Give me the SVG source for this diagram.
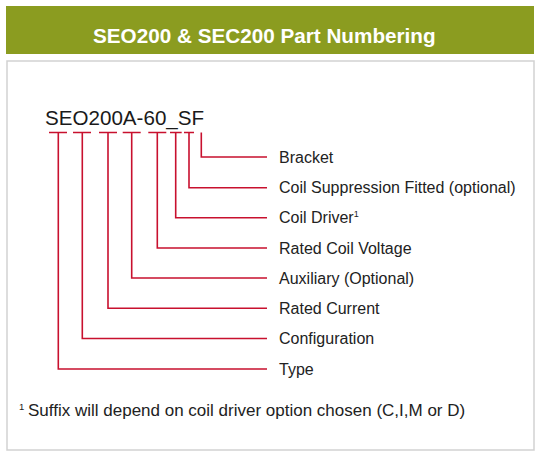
<svg xmlns="http://www.w3.org/2000/svg" width="535" height="451" viewBox="0 0 535 451">
<style>
.lbl{font-family:"Liberation Sans",Arial,sans-serif;font-size:16px;fill:#222}
.ln{fill:none;stroke:#c8102e;stroke-width:1.6}
</style>
<rect width="535" height="451" fill="#ffffff"/>
<g id="frame">
<rect x="7" y="61" width="527" height="389" fill="#ffffff" stroke="#d2d2d2" stroke-width="1.5"/>
</g>
<g id="header">
<rect x="6" y="6" width="528" height="48" fill="#8b9c20"/>
<text x="93" y="43" font-family="'Liberation Sans',Arial,sans-serif" font-size="20.7" font-weight="bold" fill="#ffffff">SEO200 &amp; SEC200 Part Numbering</text>
</g>
<g id="part-number">
<text x="45" y="125" font-family="'Liberation Sans',Arial,sans-serif" font-size="20.6" fill="#1a1a1a">SEO200A-60_SF</text>
</g>
<g id="connectors">
<path class="ln" d="M49 132.5H67M58.3 132.5V369H267"/>
<path class="ln" d="M73 132.5H91M82.3 132.5V338.5H267"/>
<path class="ln" d="M99 132.5H117M108 132.5V308.3H267"/>
<path class="ln" d="M122.7 132.5H140.7M131.7 132.5V278H267"/>
<path class="ln" d="M148.3 132.5H166.3M157.3 132.5V248H267"/>
<path class="ln" d="M170 132.5H181.7M175.7 132.5V217.7H267"/>
<path class="ln" d="M184 132.5H194M189 132.5V187.7H267"/>
<path class="ln" d="M201.3 132.5V157H267"/>
</g>
<g id="label-bracket"><text class="lbl" x="279" y="162.7">Bracket</text></g>
<g id="label-suppression"><text class="lbl" x="279" y="193.3">Coil Suppression Fitted (optional)</text></g>
<g id="label-driver"><text class="lbl" x="279" y="223.3">Coil Driver<tspan font-size="9" dy="-6">1</tspan></text></g>
<g id="label-voltage"><text class="lbl" x="279" y="253.7">Rated Coil Voltage</text></g>
<g id="label-auxiliary"><text class="lbl" x="279" y="283.7">Auxiliary (Optional)</text></g>
<g id="label-current"><text class="lbl" x="279" y="314">Rated Current</text></g>
<g id="label-configuration"><text class="lbl" x="279" y="344.2">Configuration</text></g>
<g id="label-type"><text class="lbl" x="279" y="374.7">Type</text></g>
<g id="footnote">
<text x="19" y="415.5" font-family="'Liberation Sans',Arial,sans-serif" font-size="17" fill="#222"><tspan font-size="9.5" dy="-6">1</tspan><tspan x="28" dy="6">Suffix will depend on coil driver option chosen (C,I,M or D)</tspan></text>
</g>
</svg>
